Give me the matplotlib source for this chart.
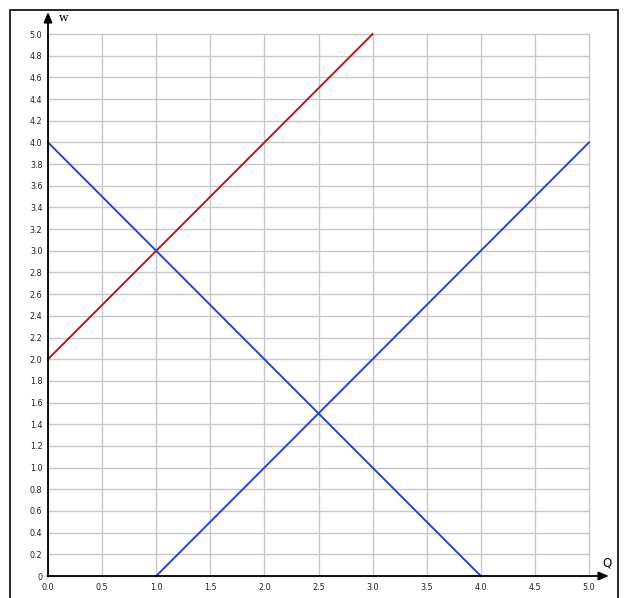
import matplotlib
matplotlib.use("Agg")
import matplotlib.pyplot as plt
from matplotlib.patches import Rectangle
import numpy as np

# Data
red_q = [0.0, 3.0]
red_w = [2.0, 5.0]
demand_q = [0.0, 4.0]
demand_w = [4.0, 0.0]
supply_q = [1.0, 5.0]
supply_w = [0.0, 4.0]
x_ticks = [0.0, 0.5, 1.0, 1.5, 2.0, 2.5, 3.0, 3.5, 4.0, 4.5, 5.0]
y_ticks = [round(0.2 * i, 1) for i in range(26)]
y_labels = ["0"] + [f"{v:.1f}" for v in y_ticks[1:]]
x_labels = [f"{v:.1f}" for v in x_ticks]

W, H = 627, 598
fig = plt.figure(figsize=(W / 100, H / 100), dpi=100)
ax = fig.add_axes([48 / W, (H - 576) / H, (589 - 48) / W, (576 - 34) / H])

ax.set_xlim(0, 5)
ax.set_ylim(0, 5)
ax.set_xticks(x_ticks)
ax.set_yticks(y_ticks)
ax.set_xticklabels(x_labels)
ax.set_yticklabels(y_labels)
ax.tick_params(length=0, labelsize=5.8, colors="#222222")
ax.tick_params(axis="y", pad=4)
ax.tick_params(axis="x", pad=5)
ax.grid(True, color="#c8c8c8", linewidth=1)
ax.set_axisbelow(True)
for gl in ax.get_xgridlines() + ax.get_ygridlines():
    gl.set_clip_on(False)
for s in ["top", "right", "left", "bottom"]:
    ax.spines[s].set_visible(False)

blue = "#2a45cc"
red = "#cc1111"
ax.plot(red_q, red_w, color=red, lw=1.4, clip_on=False, zorder=3)
ax.plot(demand_q, demand_w, color=blue, lw=1.4, clip_on=False, zorder=3)
ax.plot(supply_q, supply_w, color=blue, lw=1.4, clip_on=False, zorder=3)

# axes with arrows
ax.annotate("", xy=(48 / W, 1 - 12 / H), xytext=(48 / W, 1 - 576.5 / H),
            xycoords="figure fraction", textcoords="figure fraction",
            arrowprops=dict(arrowstyle="-|>,head_length=0.6,head_width=0.25",
                            color="black", lw=1.3, shrinkA=0, shrinkB=0))
ax.annotate("", xy=(609 / W, 1 - 576 / H), xytext=(47.5 / W, 1 - 576 / H),
            xycoords="figure fraction", textcoords="figure fraction",
            arrowprops=dict(arrowstyle="-|>,head_length=0.6,head_width=0.25",
                            color="black", lw=1.3, shrinkA=0, shrinkB=0))

fig.text(59 / W, 1 - 18 / H, "w", fontsize=8, family="DejaVu Serif",
         ha="left", va="center")
fig.text(607 / W, 1 - 563 / H, "Q", fontsize=8.5, ha="center", va="center")

# outer frame
fig.patches.append(Rectangle((9.5 / W, -0.01), (618 - 9.5) / W, 1 - 9.5 / H + 0.01,
                             transform=fig.transFigure, fill=False,
                             edgecolor="black", lw=1.2))

fig.savefig("out.png", dpi=100)
